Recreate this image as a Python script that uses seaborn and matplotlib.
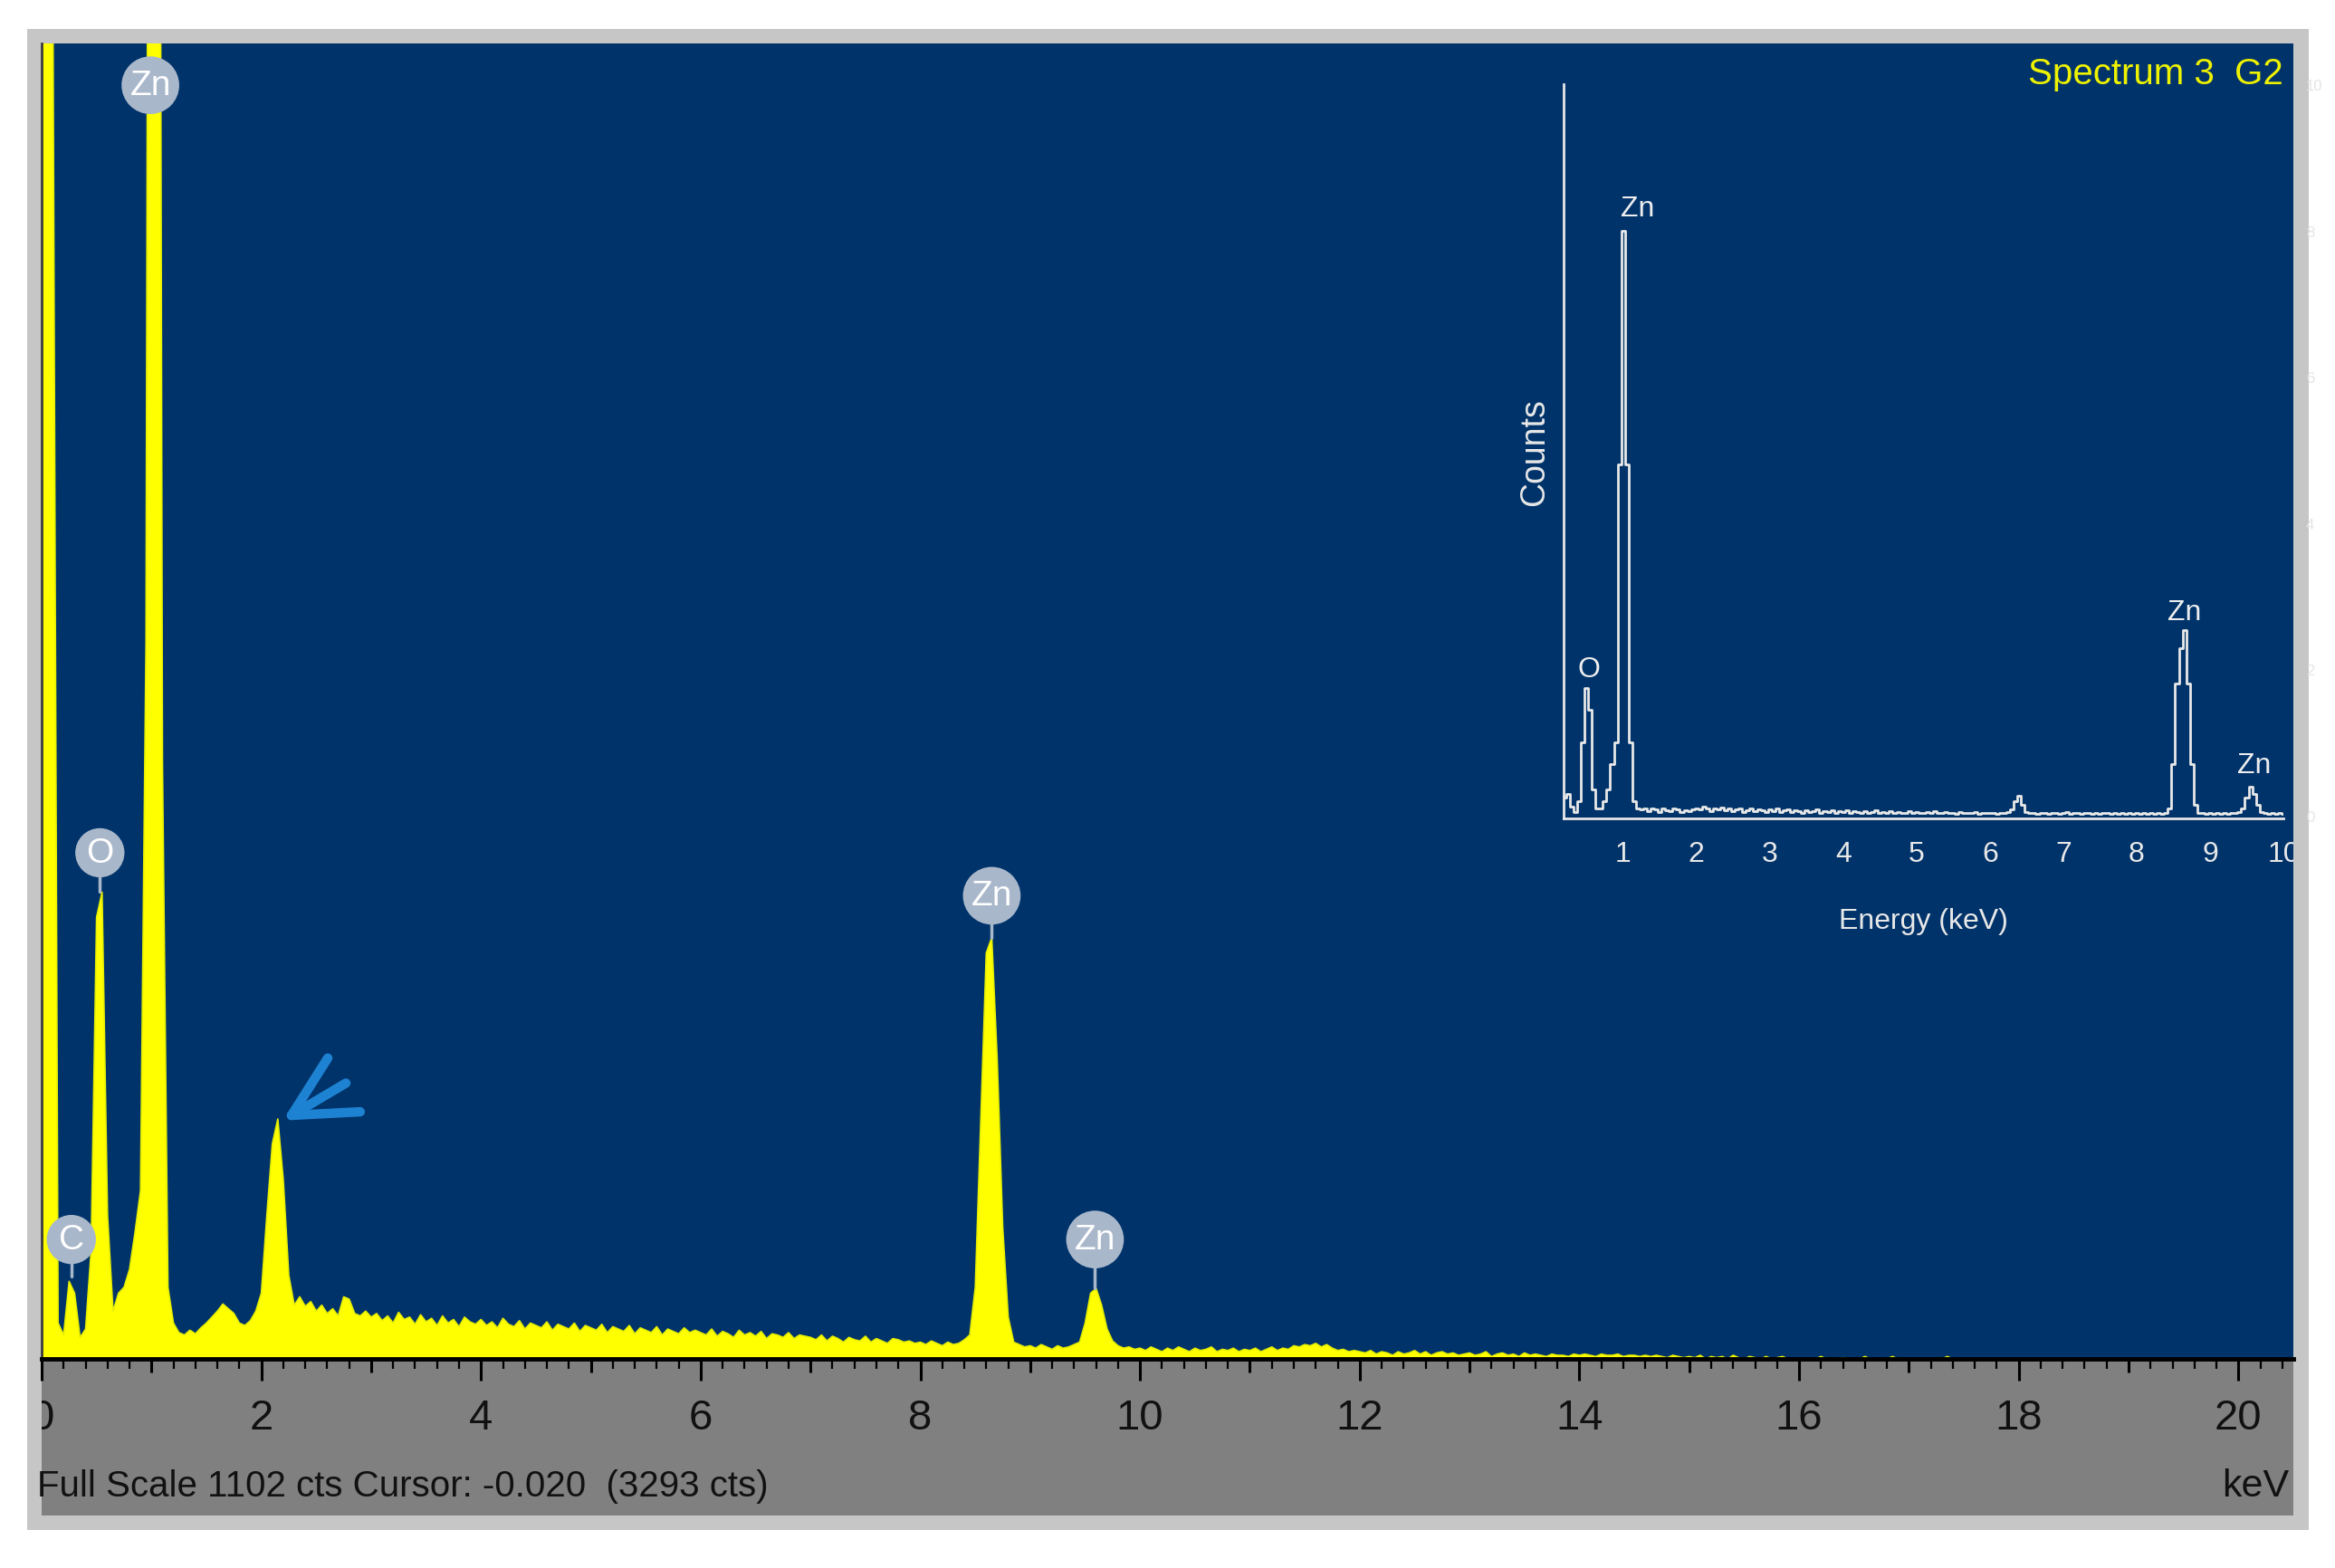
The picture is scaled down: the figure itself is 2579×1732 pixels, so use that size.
import numpy as np
import pandas as pd
import matplotlib
matplotlib.use("Agg")
import matplotlib.pyplot as plt
import seaborn as sns
from matplotlib.patches import Rectangle
from matplotlib.ticker import MultipleLocator, FixedLocator, FuncFormatter
from matplotlib.transforms import Bbox, TransformedBbox

W, H = 2579, 1733

# main EDS spectrum, counts per 0.05 keV channel from 0.00 to 20.50 keV
channel_kev = 0.05
counts_0 = [3293, 3100, 1200, 30, 20, 65, 55, 18, 25, 90, 370, 391, 120, 40, 55, 60, 75, 106, 141, 600]
counts_1 = [2600, 2400, 500, 60, 30, 22, 20, 24, 21, 26, 30, 35, 40, 46, 42, 38, 30, 28, 32, 40]
counts_2 = [55, 120, 180, 201, 150, 70, 45, 52, 44, 48, 40, 45, 38, 42, 36, 52, 50, 38, 36, 40]
counts_3 = [35, 38, 32, 36, 30, 39, 33, 35, 29, 37, 31, 34, 28, 36, 30, 33, 27, 35, 31, 29]
counts_4 = [33, 28, 31, 26, 34, 29, 27, 32, 25, 30, 28, 26, 31, 24, 29, 27, 25, 30, 23, 28]
counts_5 = [26, 24, 29, 22, 27, 25, 23, 28, 21, 26, 24, 22, 27, 20, 25, 23, 21, 26, 22, 24]
counts_6 = [22, 20, 25, 19, 23, 21, 18, 24, 20, 22, 19, 23, 17, 21, 20, 18, 22, 17, 20, 19]
counts_7 = [18, 16, 20, 15, 19, 17, 14, 18, 16, 15, 19, 14, 17, 15, 13, 17, 16, 14, 15, 13]
counts_8 = [14, 12, 15, 13, 11, 14, 12, 13, 16, 20, 60, 200, 340, 353, 250, 110, 35, 14, 12, 10]
counts_9 = [11, 9, 12, 10, 8, 11, 9, 10, 12, 14, 30, 55, 59, 45, 25, 15, 11, 9, 10, 8]
counts_10 = [9, 7, 10, 8, 6, 9, 7, 10, 8, 6, 9, 7, 8, 10, 6, 8, 7, 9, 6, 8]
counts_11 = [7, 9, 6, 8, 10, 7, 9, 8, 11, 10, 12, 11, 13, 10, 12, 9, 7, 8, 6, 7]
counts_12 = [6, 5, 7, 4, 6, 5, 3, 6, 4, 5, 7, 4, 6, 3, 5, 6, 4, 5, 3, 4]
counts_13 = [5, 3, 4, 6, 2, 4, 5, 3, 4, 2, 5, 3, 4, 3, 2, 4, 3, 3, 2, 4]
counts_14 = [3, 4, 3, 2, 4, 3, 3, 4, 2, 3, 3, 2, 3, 2, 3, 2, 1, 3, 2, 1]
counts_15 = [2, 1, 3, 0, 2, 1, 2, 0, 3, 1, 0, 2, 1, 0, 2, 0, 1, 2, 0, 0]
counts_16 = [0, 0, 0, 0, 2, 0, 0, 0, 1, 0, 0, 0, 2, 0, 0, 0, 0, 2, 0, 0]
counts_17 = [0, 0, 0, 0, 0, 0, 0, 2, 0, 0, 0, 0, 0, 0, 0, 0, 0, 0, 0, 0]
counts_18 = [0, 0, 0, 0, 0, 0, 0, 0, 0, 0, 0, 0, 0, 0, 0, 0, 0, 0, 0, 0]
counts_19 = [0, 0, 0, 0, 0, 0, 0, 0, 0, 0, 0, 0, 0, 0, 0, 0, 0, 0, 0, 0]
counts_20 = [0, 0, 0, 0, 0, 0, 0, 0, 0, 0, 0]
full_scale = 1102

# inset spectrum (another sample), 0.05 keV channels from 0.20 to 10.00 keV
inset_start = 0.20
inset_0 = [0.25, 0.3, 0.12, 0.05, 0.2, 1.0, 1.74, 1.44, 0.35, 0.1, 0.1, 0.2, 0.35, 0.7, 1.0, 4.8]
inset_1 = [8.0, 4.8, 1.0, 0.2, 0.1, 0.08, 0.1, 0.06, 0.1, 0.08, 0.05, 0.1, 0.07, 0.06, 0.1, 0.08, 0.05, 0.07, 0.06, 0.08]
inset_2 = [0.1, 0.08, 0.12, 0.09, 0.06, 0.1, 0.08, 0.11, 0.07, 0.09, 0.06, 0.08, 0.1, 0.05, 0.07, 0.09, 0.06, 0.08, 0.07, 0.05]
inset_3 = [0.08, 0.06, 0.09, 0.05, 0.07, 0.08, 0.05, 0.07, 0.06, 0.04, 0.07, 0.05, 0.06, 0.08, 0.04, 0.06, 0.05, 0.07, 0.04, 0.06]
inset_4 = [0.05, 0.07, 0.04, 0.06, 0.05, 0.03, 0.06, 0.04, 0.05, 0.07, 0.04, 0.05, 0.03, 0.06, 0.04, 0.05, 0.03, 0.04, 0.06, 0.03]
inset_5 = [0.05, 0.04, 0.03, 0.05, 0.04, 0.06, 0.03, 0.04, 0.05, 0.03, 0.04, 0.02, 0.05, 0.03, 0.04, 0.03, 0.05, 0.02, 0.04, 0.03]
inset_6 = [0.03, 0.04, 0.02, 0.04, 0.03, 0.05, 0.08, 0.2, 0.27, 0.15, 0.05, 0.03, 0.04, 0.02, 0.03, 0.04, 0.02, 0.03, 0.04, 0.02]
inset_7 = [0.03, 0.05, 0.02, 0.03, 0.04, 0.02, 0.03, 0.04, 0.02, 0.03, 0.02, 0.04, 0.03, 0.02, 0.03, 0.02, 0.04, 0.02, 0.03, 0.02]
inset_8 = [0.03, 0.02, 0.04, 0.02, 0.03, 0.02, 0.03, 0.02, 0.04, 0.1, 0.7, 1.8, 2.29, 2.53, 1.8, 0.7, 0.15, 0.04, 0.03, 0.02]
inset_9 = [0.03, 0.02, 0.03, 0.02, 0.03, 0.02, 0.04, 0.03, 0.05, 0.1, 0.25, 0.39, 0.3, 0.15, 0.05, 0.03, 0.02, 0.03, 0.02, 0.03]
inset_10 = [0.02]

# peak markers on the main spectrum
marker_symbols = ["Zn", "O", "C", "Zn", "Zn"]
marker_kev = [0.99, 0.53, 0.27, 8.65, 9.59]
marker_cts = [1067, 424, 100, 388, 100]
marker_peak = [1102, 391, 69, 353, 59]

# inset peak labels
inset_symbols = ["Zn", "O", "Zn", "Zn"]
inset_kev = [1.2, 0.53, 8.65, 9.6]
inset_level = [8.3, 2.0, 2.78, 0.69]

# hand drawn arrow next to the 2.15 keV peak: tip and the three stroke ends (keV, cts)
arrow_tip = (2.275, 204)
arrow_ends = [(2.605, 252), (2.77, 231), (2.90, 207)]

BLUE = "#00336a"
YELLOW = "#ffff00"
BAND = "#808080"
FRAME = "#c6c6c6"
BADGE = "#a9b7cb"
NARROW = ["Liberation Sans Narrow", "Liberation Sans", "DejaVu Sans"]

sns.set_theme(style="white")
plt.rcParams["font.family"] = NARROW


def fx(px):
    return px / W


def fy(py):
    return 1 - py / H


counts = (counts_0 + counts_1 + counts_2 + counts_3 + counts_4 + counts_5 + counts_6 + counts_7
          + counts_8 + counts_9 + counts_10 + counts_11 + counts_12 + counts_13 + counts_14
          + counts_15 + counts_16 + counts_17 + counts_18 + counts_19 + counts_20)
spec = pd.DataFrame({"energy": np.round(np.arange(len(counts)) * channel_kev, 3), "counts": counts})

inset_counts = (inset_0 + inset_1 + inset_2 + inset_3 + inset_4 + inset_5 + inset_6 + inset_7
                + inset_8 + inset_9 + inset_10)
inset = pd.DataFrame({"energy": np.round(inset_start + np.arange(len(inset_counts)) * channel_kev, 3),
                      "counts": inset_counts})

fig = plt.figure(figsize=(W / 100, H / 100), dpi=100)
fig.patch.set_facecolor("white")

# window frame and the grey scale band under the plot
fig.add_artist(Rectangle((fx(30), fy(1691)), fx(2550) - fx(30), fy(33) - fy(1691),
                         transform=fig.transFigure, fc=FRAME, ec="none", zorder=-2))
fig.add_artist(Rectangle((fx(46), fy(1675)), fx(2533) - fx(46), fy(1502) - fy(1675),
                         transform=fig.transFigure, fc=BAND, ec="none", zorder=-1))

ax = fig.add_axes([fx(46), fy(1502), fx(2533) - fx(46), fy(49) - fy(1502)])
ax.set_facecolor(BLUE)
ax.fill_between(spec["energy"], spec["counts"], 0, color=YELLOW, lw=0, zorder=2)
sns.lineplot(data=spec, x="energy", y="counts", ax=ax, color="#e6ee00", lw=1.2, zorder=2)
ax.set_xlim(0, 20.5)
ax.set_ylim(0, full_scale)
ax.set_xlabel("")
ax.set_ylabel("")
ax.set_yticks([])

for side in ["top", "right"]:
    ax.spines[side].set_visible(False)
ax.spines["left"].set_color("#3a3a3a")
ax.spines["left"].set_linewidth(2)
ax.spines["bottom"].set_color("black")
ax.spines["bottom"].set_linewidth(3.5)

ax.xaxis.set_major_locator(FixedLocator(range(0, 21)))
ax.xaxis.set_major_formatter(FuncFormatter(lambda v, p: f"{int(round(v))}" if int(round(v)) % 2 == 0 else ""))
ax.xaxis.set_minor_locator(MultipleLocator(0.2))
ax.tick_params(axis="x", which="major", direction="out", length=17, width=2.2, color="black",
               pad=14, labelsize=34, labelcolor="#111111", bottom=True)
ax.tick_params(axis="x", which="minor", direction="out", length=8, width=1.6, color="black", bottom=True)
band_box = TransformedBbox(Bbox.from_extents(fx(46), fy(1675), fx(2533), fy(1502)), fig.transFigure)
for i, tick in enumerate(ax.xaxis.get_major_ticks()):
    if i % 2 == 1:
        tick.tick1line.set_markersize(11)
    tick.label1.set_clip_on(True)
    tick.label1.set_clip_box(band_box)

# element badges
for sym, e, y, peak in zip(marker_symbols, marker_kev, marker_cts, marker_peak):
    ax.plot([e, e], [y, min(peak, y)], color=BADGE, lw=2.5, zorder=3)
    ax.text(e, y, sym, ha="center", va="center", fontsize=28, color="white", zorder=4,
            bbox=dict(boxstyle="circle,pad=0.2", fc=BADGE, ec=BADGE, lw=2))

for end in arrow_ends:
    ax.plot([arrow_tip[0], end[0]], [arrow_tip[1], end[1]], color="#1e82d2", lw=7.5,
            solid_capstyle="round", zorder=4)

fig.text(fx(2522), fy(82), "Spectrum 3  G2", ha="right", va="center", fontsize=29, color="#eef200")
fig.text(fx(41), fy(1642), "Full Scale 1102 cts Cursor: -0.020  (3293 cts)", ha="left", va="center",
         fontsize=29, color="#111111")
fig.text(fx(2528), fy(1642), "keV", ha="right", va="center", fontsize=31, color="#111111")

# inset spectrum
ax_in = fig.add_axes([fx(1727), fy(905), fx(2522) - fx(1727), fy(94) - fy(905)], zorder=1)
ax_in.set_facecolor("none")
sns.lineplot(data=inset, x="energy", y="counts", ax=ax_in, color="#e8e8e8", lw=2, drawstyle="steps-mid")
ax_in.set_xlim(0.19, 10.0)
ax_in.set_ylim(-0.04, 9.96)
for side in ["top", "right"]:
    ax_in.spines[side].set_visible(False)
for side in ["left", "bottom"]:
    ax_in.spines[side].set_color("#e8e8e8")
    ax_in.spines[side].set_linewidth(2)
ax_in.set_xticks(range(1, 11))
ax_in.tick_params(axis="x", length=0, pad=17, labelsize=23, labelcolor="#e8e8e8")
for lab in ax_in.get_xticklabels():
    lab.set_clip_on(True)
    lab.set_clip_box(ax.bbox)
ax_in.yaxis.tick_right()
ax_in.set_yticks(range(0, 11, 2))
ax_in.tick_params(axis="y", length=0, pad=18, labelsize=12, labelcolor="#e4e4e4", right=False)
ax_in.set_xlabel("Energy (keV)", fontsize=23, color="#e8e8e8", labelpad=32)
ax_in.set_ylabel("Counts", fontsize=27, color="#e8e8e8", labelpad=10)
ax_in.yaxis.set_label_position("left")
for sym, e, lvl in zip(inset_symbols, inset_kev, inset_level):
    ax_in.text(e, lvl, sym, ha="center", va="center", fontsize=23, color="#eeeeee")

fig.savefig("out.png", dpi=100, facecolor="white")
